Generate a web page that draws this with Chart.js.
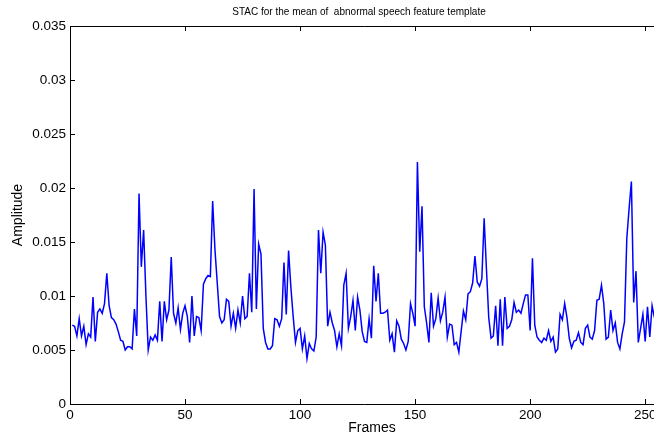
<!DOCTYPE html>
<html>
<head>
<meta charset="utf-8">
<script src="https://cdn.jsdelivr.net/npm/chart.js@4"></script>
<style>
    html, body { margin: 0; padding: 0; background: #fff; overflow: hidden; }
    #wrap { width: 654px; height: 436px; overflow: hidden; }
    canvas { display: block; }
</style>
</head>
<body>
<div id="wrap"><canvas id="stacChart" width="720" height="436"></canvas></div>
<script>
// STAC mean amplitude, one value per frame (frames start at 1)
const amplitude = [
    0.0073, 0.0072, 0.0063, 0.0079, 0.0063, 0.0072, 0.0055, 0.0065, 0.0062, 0.0099,
    0.0058, 0.0085, 0.0088, 0.0084, 0.0093, 0.0121, 0.0091, 0.0080, 0.0078, 0.0074,
    0.0067, 0.0059, 0.0058, 0.0050, 0.0053, 0.0053, 0.0051, 0.0088, 0.0063, 0.0195,
    0.0127, 0.0161, 0.0100, 0.0050, 0.0062, 0.0059, 0.0064, 0.0059, 0.0095, 0.0058,
    0.0095, 0.0078, 0.0087, 0.0136, 0.0084, 0.0075, 0.0089, 0.0069, 0.0084, 0.0091,
    0.0081, 0.0057, 0.0100, 0.0063, 0.0081, 0.0080, 0.0068, 0.0111, 0.0116, 0.0119,
    0.0118, 0.0188, 0.0143, 0.0112, 0.0081, 0.0075, 0.0078, 0.0097, 0.0095, 0.0072,
    0.0084, 0.0070, 0.0087, 0.0075, 0.0100, 0.0079, 0.0081, 0.0121, 0.0085, 0.0199,
    0.0088, 0.0148, 0.0139, 0.0070, 0.0057, 0.0051, 0.0051, 0.0054, 0.0079, 0.0078,
    0.0072, 0.0079, 0.0131, 0.0083, 0.0142, 0.0108, 0.0081, 0.0057, 0.0068, 0.0070,
    0.0051, 0.0063, 0.0042, 0.0056, 0.0051, 0.0049, 0.0062, 0.0161, 0.0121, 0.0159,
    0.0147, 0.0072, 0.0085, 0.0075, 0.0068, 0.0053, 0.0065, 0.0054, 0.0110, 0.0121,
    0.0070, 0.0081, 0.0096, 0.0068, 0.0099, 0.0087, 0.0067, 0.0058, 0.0057, 0.0079,
    0.0061, 0.0128, 0.0095, 0.0121, 0.0084, 0.0084, 0.0085, 0.0087, 0.0059, 0.0065,
    0.0048, 0.0077, 0.0072, 0.0060, 0.0056, 0.0050, 0.0058, 0.0093, 0.0084, 0.0072,
    0.0224, 0.0141, 0.0183, 0.0090, 0.0075, 0.0057, 0.0103, 0.0072, 0.0079, 0.0098,
    0.0077, 0.0085, 0.0099, 0.0062, 0.0074, 0.0073, 0.0055, 0.0057, 0.0048, 0.0067,
    0.0086, 0.0078, 0.0102, 0.0104, 0.0112, 0.0137, 0.0113, 0.0109, 0.0116, 0.0172,
    0.0125, 0.0080, 0.0061, 0.0063, 0.0091, 0.0054, 0.0097, 0.0054, 0.0099, 0.0070,
    0.0072, 0.0078, 0.0094, 0.0085, 0.0087, 0.0084, 0.0093, 0.0101, 0.0101, 0.0068,
    0.0135, 0.0073, 0.0062, 0.0059, 0.0057, 0.0061, 0.0059, 0.0068, 0.0058, 0.0062,
    0.0048, 0.0051, 0.0083, 0.0078, 0.0093, 0.0080, 0.0061, 0.0052, 0.0058, 0.0059,
    0.0066, 0.0057, 0.0055, 0.0070, 0.0073, 0.0062, 0.0060, 0.0068, 0.0096, 0.0097,
    0.0110, 0.0093, 0.0060, 0.0062, 0.0087, 0.0068, 0.0075, 0.0057, 0.0051, 0.0065,
    0.0076, 0.0153, 0.0181, 0.0206, 0.0094, 0.0123, 0.0057, 0.0070, 0.0083, 0.0058,
    0.0090, 0.0062, 0.0091, 0.0080
];
const frames = amplitude.map((_, i) => i + 1);

const xTickValues = [0, 50, 100, 150, 200, 250];
const yTickValues = [0, 0.005, 0.01, 0.015, 0.02, 0.025, 0.03, 0.035];
const yTickLabels = ['0', '0.005', '0.01', '0.015', '0.02', '0.025', '0.03', '0.035'];

const chartTitle = 'STAC for the mean of  abnormal speech feature template';

const FAMILY = 'Liberation Sans, Arial, sans-serif';
const TICK_FONT = { family: FAMILY, size: 13.5 };
const LABEL_FONT = { family: FAMILY, size: 14 };
Chart.defaults.color = '#000';

/**
 * MATLAB style box with inward tick marks, plus title and x label
 */
const boxTicks = {
    id: 'boxTicks',
    afterDatasetsDraw(chart) {
        const { ctx, chartArea: a, scales: { x, y } } = chart;
        const len = 5;
        ctx.save();
        ctx.strokeStyle = '#000';
        ctx.lineWidth = 1;
        ctx.beginPath();
        ctx.moveTo(a.left + 0.5, a.top + 0.5);
        ctx.lineTo(a.right, a.top + 0.5);
        ctx.moveTo(a.left + 0.5, a.top);
        ctx.lineTo(a.left + 0.5, a.bottom + 0.5);
        ctx.lineTo(a.right, a.bottom + 0.5);
        xTickValues.forEach(v => {
            const px = Math.round(x.getPixelForValue(v)) + 0.5;
            ctx.moveTo(px, a.bottom);
            ctx.lineTo(px, a.bottom - len);
            ctx.moveTo(px, a.top);
            ctx.lineTo(px, a.top + len);
        });
        yTickValues.forEach(v => {
            const py = Math.round(y.getPixelForValue(v)) + 0.5;
            ctx.moveTo(a.left, py);
            ctx.lineTo(a.left + len, py);
        });
        ctx.stroke();

        ctx.fillStyle = '#000';
        ctx.textAlign = 'center';
        ctx.textBaseline = 'middle';

        // title, slightly condensed like the original
        ctx.save();
        ctx.translate(359, 12);
        ctx.scale(0.91, 1);
        ctx.font = `11px ${FAMILY}`;
        ctx.fillText(chartTitle, 0, 0);
        ctx.restore();

        ctx.font = `14px ${FAMILY}`;
        ctx.fillText('Frames', 372, 428);
        ctx.restore();
    }
};

new Chart(document.getElementById('stacChart'), {
    type: 'line',
    data: {
        datasets: [{
            data: frames.map((f, i) => ({ x: f, y: amplitude[i] })),
            borderColor: '#0000ff',
            borderWidth: 1.5,
            pointRadius: 0,
            tension: 0,
            fill: false
        }]
    },
    options: {
        responsive: false,
        animation: false,
        layout: { padding: { left: 0, right: 61, top: 26, bottom: 0 } },
        plugins: {
            legend: { display: false },
            tooltip: { enabled: false },
            title: { display: false }
        },
        scales: {
            x: {
                type: 'linear',
                min: 0,
                max: 256,
                grid: { display: false, drawTicks: false },
                border: { display: false },
                afterFit: s => { s.height = 32; },
                afterBuildTicks: s => { s.ticks = xTickValues.map(v => ({ value: v })); },
                ticks: { font: TICK_FONT, padding: 3, maxRotation: 0, autoSkip: false },
                title: { display: false }
            },
            y: {
                min: 0,
                max: 0.035,
                grid: { display: false, drawTicks: false },
                border: { display: false },
                afterFit: s => { s.width = 70; },
                afterBuildTicks: s => { s.ticks = yTickValues.map(v => ({ value: v })); },
                ticks: {
                    font: TICK_FONT,
                    padding: 4,
                    autoSkip: false,
                    callback: (value, index) => yTickLabels[index]
                },
                title: { display: true, text: 'Amplitude', font: LABEL_FONT, padding: { top: 10, bottom: 0 } }
            }
        }
    },
    plugins: [boxTicks]
});
</script>
</body>
</html>
